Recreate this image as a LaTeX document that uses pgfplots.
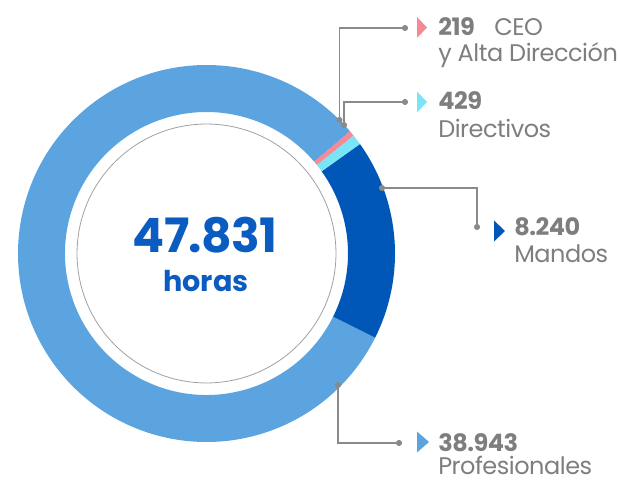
\documentclass[border=0pt]{standalone}
\usepackage{pgfplots}
\pgfplotsset{compat=1.18}
\usepackage{pgfplotstable}
\usepackage{fontspec}
\setmainfont{Poppins}

\definecolor{cProf}{HTML}{5BA4E0}
\definecolor{cMan}{HTML}{0057B8}
\definecolor{cDir}{HTML}{7BE5F8}
\definecolor{cCEO}{HTML}{F58A96}
\definecolor{txtgray}{HTML}{7E7E7E}
\definecolor{linegray}{HTML}{8A8A8A}
\definecolor{centreblue}{HTML}{0B5CC1}

% Horas de formación por colectivo
\pgfplotstableread{
grupo valor
CEO 219
Directivos 429
Mandos 8240
Profesionales 38943
}\horasformacion

\pgfplotstablegetelem{0}{valor}\of\horasformacion \let\vCEO\pgfplotsretval
\pgfplotstablegetelem{1}{valor}\of\horasformacion \let\vDir\pgfplotsretval
\pgfplotstablegetelem{2}{valor}\of\horasformacion \let\vMan\pgfplotsretval
\pgfplotstablegetelem{3}{valor}\of\horasformacion \let\vPro\pgfplotsretval

% cumulative angles (degrees), clockwise order CEO, Directivos, Mandos, Profesionales
\edef\total{\fpeval{\vCEO+\vDir+\vMan+\vPro}}
\def\aBase{-26.5}
\edef\aMan{\fpeval{\aBase+360*\vMan/\total}}
\edef\aDir{\fpeval{\aMan+360*\vDir/\total}}
\edef\aCEO{\fpeval{\aDir+360*\vCEO/\total}}
\edef\aEnd{\fpeval{\aBase+360}}

% ring segment: colour, start angle, end angle
\newcommand\ring[3]{%
  \fill[#1] ([shift={(#2:141.375pt)}]axis cs:206.5,227.5)
    arc[start angle=#2, end angle=#3, radius=141.375pt]
    -- ([shift={(#3:106.125pt)}]axis cs:206.5,227.5)
    arc[start angle=#3, end angle=#2, radius=106.125pt] -- cycle;}

% leader dot
\newcommand\ldot[2]{\fill[linegray] (axis cs:#1,#2) circle[radius=2.3pt];}
% pointer triangle: colour, left x, centre y, width, half height
\newcommand\tri[5]{\fill[#1] (axis cs:#2,#3+#5) -- (axis cs:#2+#4,#3) -- (axis cs:#2,#3-#5) -- cycle;}

\newcommand\lbl{\fontsize{18}{21}\selectfont\addfontfeatures{LetterSpace=-2}}

\begin{document}
\begin{tikzpicture}
\begin{axis}[
  x=0.75pt, y=0.75pt,
  xmin=0, xmax=620, ymin=0, ymax=481,
  hide axis, clip=false,
]
\coordinate (bbsw) at (axis cs:0,0);
\coordinate (bbne) at (axis cs:620,481);

\ring{cProf}{\aCEO}{\aEnd}
\ring{cMan}{\aBase}{\aMan}
\ring{cDir}{\aMan}{\aDir}
\ring{cCEO}{\aDir}{\aCEO}

\draw[linegray!80, line width=0.6pt] (axis cs:206.5,227.5) circle[radius=97.1pt];

% leaders
\begin{scope}[linegray, line width=0.85pt]
\draw (axis cs:405,453) -- (axis cs:339.5,453) -- (axis cs:339.5,361);
\draw (axis cs:405,379) -- (axis cs:344,379) -- (axis cs:344,356);
\draw (axis cs:382,293) -- (axis cs:477,293) -- (axis cs:477,254);
\draw (axis cs:338,96) -- (axis cs:338,38) -- (axis cs:399,38);
\end{scope}
\ldot{405}{453}\ldot{339.5}{361}
\ldot{405}{379}\ldot{344}{356}
\ldot{382}{293}\ldot{477}{254}
\ldot{338}{96}\ldot{399}{38}

\tri{cCEO}{417}{453.5}{10}{10.5}
\tri{cDir}{417}{379}{10}{10.5}
\tri{cMan}{494}{250}{11}{10.5}
\tri{cProf}{417}{39}{12}{10.5}

% labels
\begin{scope}[every node/.style={anchor=base west, inner sep=0pt, text=txtgray, font=\lbl}]
\node at (axis cs:438,445) {\bfseries 219};
\node at (axis cs:494,445) {CEO};
\node at (axis cs:438,419) {y Alta Dirección};
\node at (axis cs:438,371) {\bfseries 429};
\node at (axis cs:438,343) {Directivos};
\node at (axis cs:514,245) {\bfseries 8.240};
\node at (axis cs:514,218) {Mandos};
\node at (axis cs:438,30) {\bfseries 38.943};
\node at (axis cs:438,6.5) {Profesionales};
\end{scope}

\node[anchor=base, inner sep=0pt, text=centreblue, font=\fontsize{35.5}{38}\selectfont\bfseries\addfontfeatures{LetterSpace=-1.5}] at (axis cs:205,228) {47.831};
\node[anchor=base, inner sep=0pt, text=centreblue, font=\fontsize{21.5}{24}\selectfont\bfseries] at (axis cs:206,189) {horas};
\end{axis}
\pgfresetboundingbox
\useasboundingbox (bbsw) rectangle (bbne);
\end{tikzpicture}
\end{document}
